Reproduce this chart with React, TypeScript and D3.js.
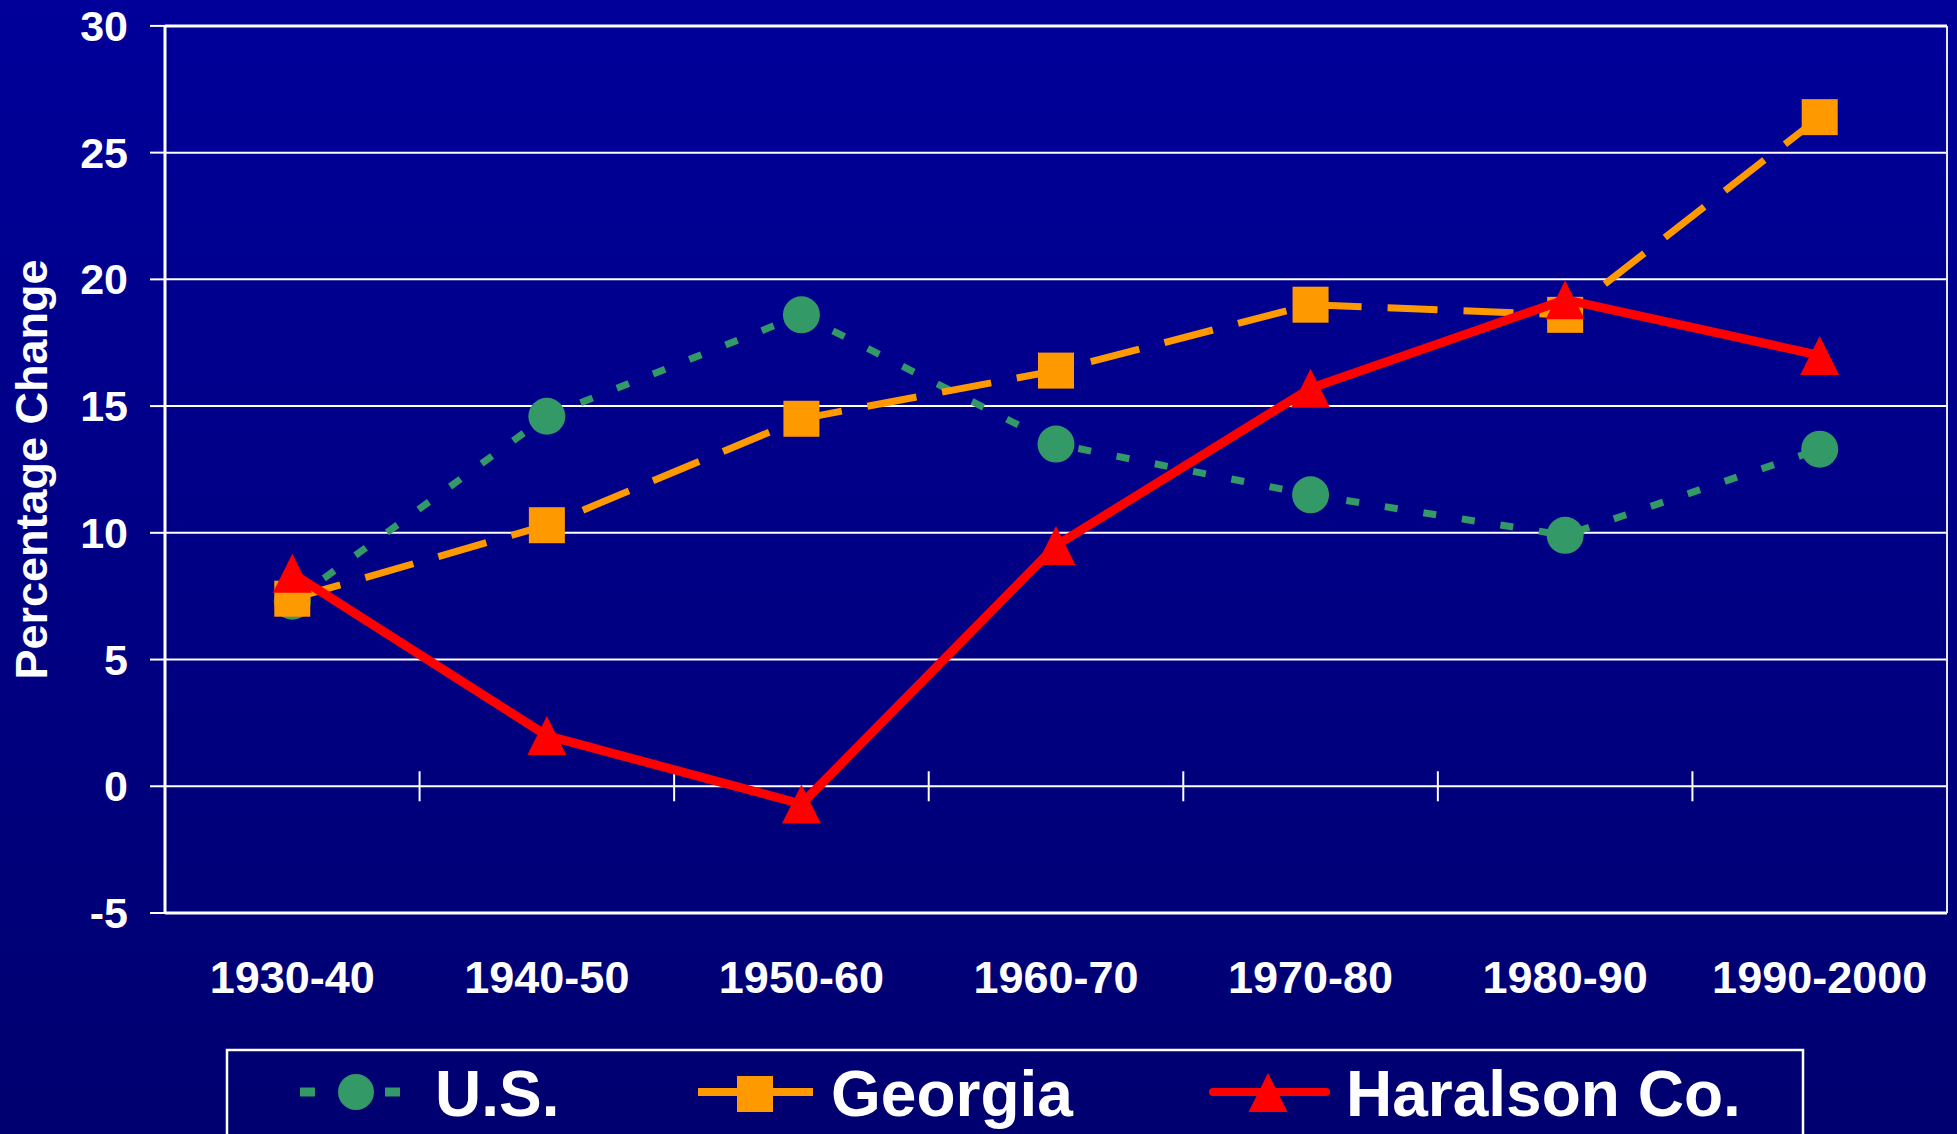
import React from "react";
import * as d3 from "d3";

const categories = ["1930-40", "1940-50", "1950-60", "1960-70", "1970-80", "1980-90", "1990-2000"];
const usValues = [7.3, 14.6, 18.6, 13.5, 11.5, 9.9, 13.3];
const georgiaValues = [7.4, 10.3, 14.5, 16.4, 19.0, 18.6, 26.4];
const haralsonValues = [8.4, 2.0, -0.7, 9.5, 15.7, 19.2, 17.0];
const yTicks = [-5, 0, 5, 10, 15, 20, 25, 30];
const seriesNames = ["U.S.", "Georgia", "Haralson Co."];
const yTitle = "Percentage Change";

const W = 1957;
const H = 1134;
const FONT = "'Liberation Sans', Arial, Helvetica, sans-serif";

const GREEN = "#339966";
const ORANGE = "#FF9900";
const RED = "#FF0000";

export default function App() {
  const left = 165;
  const right = 1947;
  const top = 25.9;
  const bottom = 913;

  const x = d3.scaleBand<string>().domain(categories).range([left, right]);
  const bw = x.bandwidth();
  const cx = (i: number) => (x(categories[i]) as number) + bw / 2;
  const y = d3.scaleLinear().domain([-5, 30]).range([bottom, top]);

  const lineGen = d3
    .line<number>()
    .x((_, i) => cx(i))
    .y((d) => y(d));

  const tri = (px: number, py: number, s: number) =>
    `M${px},${py - s / 2}L${px + s / 2},${py + s / 2}L${px - s / 2},${py + s / 2}Z`;

  const boundaries = d3.range(1, categories.length);

  return (
    <svg
      width={W}
      height={H}
      style={{ position: "absolute", left: 0, top: 0, display: "block" }}
      fontFamily={FONT}
    >
      <defs>
        <linearGradient id="bg" x1="0" y1="0" x2="0" y2="1">
          <stop offset="0%" stopColor="#00009A" />
          <stop offset="100%" stopColor="#000070" />
        </linearGradient>
      </defs>
      <rect x={0} y={0} width={W} height={H} fill="url(#bg)" />

      {/* gridlines */}
      {yTicks.map((t) => (
        <line
          key={"g" + t}
          x1={left}
          x2={right}
          y1={y(t)}
          y2={y(t)}
          stroke="#FFFFFF"
          strokeWidth={t === 30 || t === -5 ? 3 : 2}
        />
      ))}
      {/* right border */}
      <line x1={right} x2={right} y1={top} y2={bottom} stroke="#E8E8F0" strokeWidth={2} />
      {/* left axis */}
      <line x1={left} x2={left} y1={top - 1} y2={bottom + 1} stroke="#FFFFFF" strokeWidth={3} />

      {/* y ticks and labels */}
      {yTicks.map((t) => (
        <g key={"yt" + t}>
          <line x1={150} x2={left} y1={y(t)} y2={y(t)} stroke="#FFFFFF" strokeWidth={2} />
          <text
            x={128}
            y={y(t) + 15}
            textAnchor="end"
            fill="#FFFFFF"
            fontWeight="bold"
            fontSize={43}
          >
            {t}
          </text>
        </g>
      ))}

      {/* x ticks on zero line */}
      {boundaries.map((b) => {
        const bx = left + b * bw;
        return (
          <line key={"xt" + b} x1={bx} x2={bx} y1={y(0) - 15} y2={y(0) + 15} stroke="#FFFFFF" strokeWidth={2} />
        );
      })}

      {/* x labels */}
      {categories.map((c, i) => (
        <text
          key={"xl" + c}
          x={cx(i)}
          y={993}
          textAnchor="middle"
          fill="#FFFFFF"
          fontWeight="bold"
          fontSize={45}
        >
          {c}
        </text>
      ))}

      {/* y title */}
      <text
        transform={`translate(47,${(top + bottom) / 2}) rotate(-90)`}
        textAnchor="middle"
        fill="#FFFFFF"
        fontWeight="bold"
        fontSize={45}
      >
        {yTitle}
      </text>

      {/* US series */}
      <path
        d={lineGen(usValues) as string}
        fill="none"
        stroke={GREEN}
        strokeWidth={7}
        strokeDasharray="13 26"
      />
      {usValues.map((v, i) => (
        <circle key={"us" + i} cx={cx(i)} cy={y(v)} r={18.5} fill={GREEN} />
      ))}

      {/* Georgia series */}
      <path
        d={lineGen(georgiaValues) as string}
        fill="none"
        stroke={ORANGE}
        strokeWidth={7}
        strokeDasharray="50 26"
      />
      {georgiaValues.map((v, i) => (
        <rect key={"ga" + i} x={cx(i) - 18} y={y(v) - 18} width={36} height={36} fill={ORANGE} />
      ))}

      {/* Haralson series */}
      <path
        d={lineGen(haralsonValues) as string}
        fill="none"
        stroke={RED}
        strokeWidth={9}
        strokeLinejoin="round"
      />
      {haralsonValues.map((v, i) => (
        <path key={"hc" + i} d={tri(cx(i), y(v), 39)} fill={RED} />
      ))}

      {/* legend */}
      <rect x={227} y={1050} width={1576} height={100} fill="none" stroke="#FFFFFF" strokeWidth={2.5} />
      <g>
        <line x1={300} x2={400} y1={1092} y2={1092} stroke={GREEN} strokeWidth={9} strokeDasharray="15 70" />
        <circle cx={356} cy={1092} r={18} fill={GREEN} />
        <text x={435} y={1116} fill="#FFFFFF" fontWeight="bold" fontSize={64}>
          {seriesNames[0]}
        </text>
      </g>
      <g>
        <line x1={698} x2={813} y1={1092} y2={1092} stroke={ORANGE} strokeWidth={8} />
        <rect x={737} y={1076} width={36} height={36} fill={ORANGE} />
        <text x={831} y={1116} fill="#FFFFFF" fontWeight="bold" fontSize={64}>
          {seriesNames[1]}
        </text>
      </g>
      <g>
        <line x1={1213} x2={1326} y1={1092} y2={1092} stroke={RED} strokeWidth={8} strokeLinecap="round" />
        <path d={tri(1268, 1092.5, 39)} fill={RED} />
        <text x={1346} y={1116} fill="#FFFFFF" fontWeight="bold" fontSize={64}>
          {seriesNames[2]}
        </text>
      </g>
    </svg>
  );
}
